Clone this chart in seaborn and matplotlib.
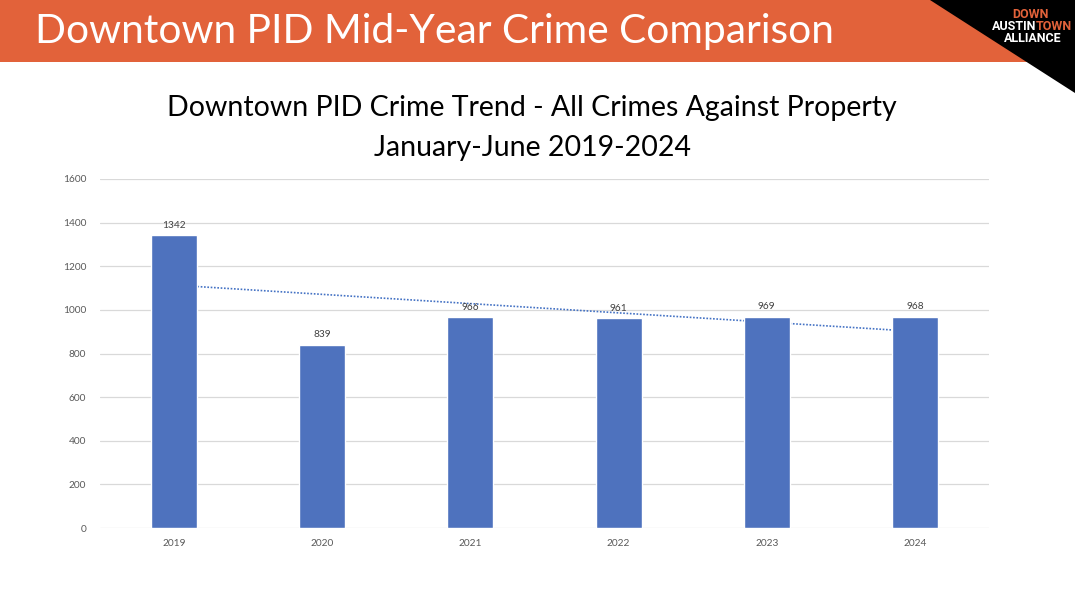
import numpy as np
import pandas as pd
import matplotlib
matplotlib.use("Agg")
import matplotlib.pyplot as plt
from matplotlib.patches import Polygon, Rectangle
import seaborn as sns

years = ["2019", "2020", "2021", "2022", "2023", "2024"]
crimes = [1342, 839, 966, 961, 969, 968]
yticks = [0, 200, 400, 600, 800, 1000, 1200, 1400, 1600]

header = "Downtown PID Mid-Year Crime Comparison"
title_lines = ["Downtown PID Crime Trend - All Crimes Against Property", "January-June 2019-2024"]

sns.set_theme(style="white")
plt.rcParams['font.family'] = ['Lato', 'DejaVu Sans']

W, H = 1075, 600
fig = plt.figure(figsize=(W / 100, H / 100), dpi=100)
fig.patch.set_facecolor("white")

def fx(px):
    return px / W

def fy(py):
    return 1 - py / H

# banner
fig.patches.append(Rectangle((0, fy(62)), 1, 62 / H, transform=fig.transFigure,
                             facecolor="#E2623A", edgecolor="none", zorder=0))
fig.patches.append(Polygon([(fx(930), fy(0)), (fx(1075), fy(0)), (fx(1075), fy(93))],
                           closed=True, transform=fig.transFigure,
                           facecolor="black", edgecolor="none", zorder=1))
fig.text(fx(35), fy(31), header, color="white", fontsize=29.3, va="center", ha="left")
# logo text
logo_font = dict(fontsize=9, fontweight="bold", family=["Roboto", "DejaVu Sans"],
                 va="center")
fig.text(fx(1030), fy(14), "DOWN", color="#E2623A", ha="center", **logo_font)
fig.text(fx(1036), fy(27), "AUSTIN", color="white", ha="right", **logo_font)
fig.text(fx(1036), fy(27), "TOWN", color="#E2623A", ha="left", **logo_font)
fig.text(fx(1033), fy(39), "ALLIANCE", color="white", ha="center", **logo_font)

# chart titles
fig.text(fx(532), fy(108), title_lines[0], color="black", fontsize=20.5, ha="center", va="center")
fig.text(fx(532), fy(148), title_lines[1], color="black", fontsize=20.5, ha="center", va="center")

ax = fig.add_axes([fx(100), fy(528), fx(989) - fx(100), (528 - 179) / H])
df = pd.DataFrame({"year": years, "crimes": crimes})

xs = np.arange(len(years))
coef = np.polyfit(xs, crimes, 1)
ax.plot(xs, np.polyval(coef, xs), linestyle=(0, (1, 1)), color="#4472C4", linewidth=1.2, zorder=1)

sns.barplot(data=df, x="year", y="crimes", color="#4E72BE", saturation=1, width=0.31,
            ax=ax, zorder=2)
for p in ax.patches:
    p.set_zorder(2)

for i, v in enumerate(crimes):
    ax.annotate(str(v), (i, v), xytext=(0, 4), textcoords="offset points",
                ha="center", va="bottom", fontsize=7.3, color="#404040", zorder=3)

ax.set_ylim(0, 1600)
ax.set_xlim(-0.5, len(years) - 0.5)
ax.set_yticks(yticks)
ax.set_yticklabels([str(t) for t in yticks])
ax.yaxis.grid(True, color="#D9D9D9", linewidth=0.9)
ax.set_axisbelow(True)
for s in ax.spines.values():
    s.set_visible(False)
ax.tick_params(axis="both", length=0, labelsize=7.3, labelcolor="#595959")
ax.tick_params(axis="y", pad=10)
ax.tick_params(axis="x", pad=8)
ax.set_xlabel("")
ax.set_ylabel("")
ax.set_facecolor("none")

fig.savefig("out.png", dpi=100)
